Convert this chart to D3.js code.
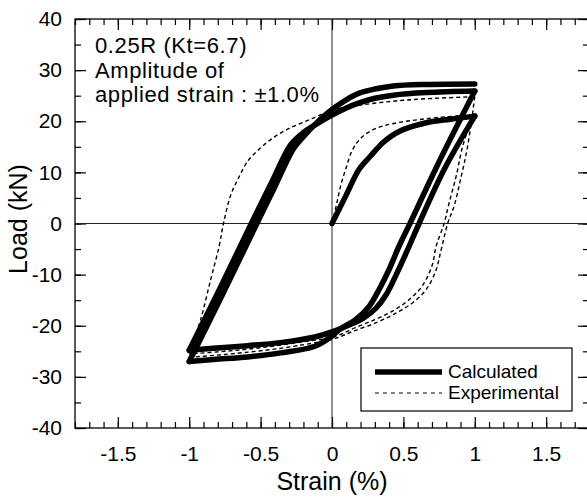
<!DOCTYPE html>
<html>
<head>
<meta charset="utf-8">
<script src="https://cdn.jsdelivr.net/npm/d3@7"></script>
<style>
  body { margin: 0; background: #fff; }
  text { font-family: "Liberation Sans", Arial, Helvetica, sans-serif; fill: #000; }
</style>
</head>
<body>
<div id="chart"></div>
<script>
// tick values / labels
const xMajor = [-1.5, -1, -0.5, 0, 0.5, 1, 1.5];
const xLabels = ["-1.5", "-1", "-0.5", "0", "0.5", "1", "1.5"];
const yMajor = [-40, -30, -20, -10, 0, 10, 20, 30, 40];
const yLabels = ["-40", "-30", "-20", "-10", "0", "10", "20", "30", "40"];

// calculated branches [strain %, load kN]
const calcLoad0 = [[0,0],[0.1,5.6],[0.19,10.6],[0.27,13.2],[0.36,15.9],[0.47,18.0],[0.66,19.7],[0.83,20.4],[1.0,21.0]];
const calcUnload1 = [[1.0,21.0],[0.79,10.8],[0.61,0],[0.53,-5.1],[0.45,-10.0],[0.38,-13.9],[0.31,-16.5],[0.22,-18.5],[0.1,-20.1],[0,-21.2],[-0.12,-22.2],[-0.36,-23.3],[-0.59,-23.9],[-0.83,-24.4],[-1.0,-24.8]];
const calcLoad1 = [[-1.0,-24.8],[-0.78,-12.4],[-0.565,0],[-0.42,8.2],[-0.29,15.4],[-0.2,17.8],[-0.1,19.6],[0,21.2],[0.1,22.6],[0.19,23.6],[0.3,24.5],[0.43,25.1],[0.66,25.6],[1.0,25.9]];
const calcUnload2 = [[1.0,25.9],[0.74,11.5],[0.546,0],[0.47,-4.4],[0.4,-9.0],[0.33,-12.9],[0.26,-16.2],[0.165,-18.8],[0.06,-20.6],[0,-22.0],[-0.12,-24.0],[-0.36,-25.3],[-0.59,-26.1],[-0.83,-26.6],[-1.0,-27.0]];
const calcLoad2 = [[-1.0,-27.0],[-0.76,-13.5],[-0.526,0],[-0.4,7.2],[-0.27,14.6],[-0.2,17.0],[-0.1,19.9],[0,22.3],[0.1,24.2],[0.19,25.5],[0.3,26.3],[0.43,26.9],[0.66,27.2],[1.0,27.3]];

// experimental branches
const expLoad0 = [[0,0],[0.03,3.5],[0.06,7.3],[0.1,11.0],[0.145,14.5],[0.21,16.9],[0.3,18.5],[0.42,19.5],[0.66,20.5],[0.95,21.2],[0.99,21.3]];
const expUnload1 = [[0.99,21.3],[0.915,15.1],[0.87,9.3],[0.82,4.0],[0.785,0],[0.73,-4.4],[0.7,-8.3],[0.63,-12.3],[0.54,-14.9],[0.42,-17.2],[0.3,-18.8],[0.16,-20.4],[0.03,-22.0],[-0.24,-23.3],[-0.5,-24.3],[-0.75,-25.0],[-1.0,-25.5]];
const expLoad1 = [[-1.0,-25.5],[-0.92,-18.8],[-0.85,-11.0],[-0.79,-4.4],[-0.76,0],[-0.71,5.5],[-0.66,8.6],[-0.59,12.2],[-0.5,14.8],[-0.4,17.0],[-0.3,18.6],[-0.15,20.4],[0,22.2],[0.18,23.1],[0.42,23.9],[0.66,24.4],[1.0,24.8]];
const expUnload2 = [[1.0,24.8],[0.95,15.1],[0.9,8.6],[0.855,3.4],[0.81,0],[0.76,-5.7],[0.73,-9.0],[0.66,-12.9],[0.565,-15.5],[0.45,-17.5],[0.31,-19.4],[0.145,-21.1],[0.03,-22.4],[-0.24,-23.9],[-0.5,-24.9],[-0.75,-25.6],[-1.0,-26.2]];

const calcBranches = [calcLoad0, calcUnload1, calcLoad1, calcUnload2, calcLoad2];
const expBranches = [expLoad0, expUnload1, expLoad1, expUnload2];

const noteLines = ["0.25R (Kt=6.7)", "Amplitude of", "applied strain : \u00b11.0%"];
const legendNames = ["Calculated", "Experimental"];

const width = 587;
const height = 497;
const plotLeft = 75, plotRight = 589, plotTop = 19, plotBottom = 428;

var svg = d3.select("#chart").append("svg")
    .attr("width", width)
    .attr("height", height);

svg.append("rect").attr("width", width).attr("height", height).attr("fill", "#fff");

var x = d3.scaleLinear().domain([-1.8, 1.8]).range([plotLeft, plotRight]);
var y = d3.scaleLinear().domain([-40, 40]).range([plotBottom, plotTop]);

function styleAxis(g) {
    g.select(".domain").remove();
    g.selectAll("line").attr("stroke", "#000").attr("stroke-width", 1.2);
    g.selectAll("text").style("font-size", "21px").attr("fill", "#000");
}

// minor ticks
svg.append("g").attr("transform", "translate(0," + plotBottom + ")")
    .call(d3.axisBottom(x).ticks(36).tickSize(-6).tickFormat(""))
    .call(styleAxis);
svg.append("g").attr("transform", "translate(0," + plotTop + ")")
    .call(d3.axisTop(x).ticks(36).tickSize(-6).tickFormat(""))
    .call(styleAxis);
svg.append("g").attr("transform", "translate(" + plotLeft + ",0)")
    .call(d3.axisLeft(y).ticks(16).tickSize(-6).tickFormat(""))
    .call(styleAxis);
svg.append("g").attr("transform", "translate(" + plotRight + ",0)")
    .call(d3.axisRight(y).ticks(16).tickSize(-6).tickFormat(""))
    .call(styleAxis);

// major ticks + labels
svg.append("g").attr("transform", "translate(0," + plotBottom + ")")
    .call(d3.axisBottom(x).tickValues(xMajor).tickSize(-11).tickPadding(18)
          .tickFormat((d, i) => xLabels[i]))
    .call(styleAxis);
svg.append("g").attr("transform", "translate(0," + plotTop + ")")
    .call(d3.axisTop(x).tickValues(xMajor).tickSize(-11).tickFormat(""))
    .call(styleAxis);
svg.append("g").attr("transform", "translate(" + plotLeft + ",0)")
    .call(d3.axisLeft(y).tickValues(yMajor).tickSize(-11).tickPadding(13)
          .tickFormat((d, i) => yLabels[i]))
    .call(styleAxis);
svg.append("g").attr("transform", "translate(" + plotRight + ",0)")
    .call(d3.axisRight(y).tickValues(yMajor).tickSize(-11).tickFormat(""))
    .call(styleAxis);

// frame
svg.append("rect")
    .attr("x", plotLeft).attr("y", plotTop)
    .attr("width", plotRight - plotLeft).attr("height", plotBottom - plotTop)
    .attr("fill", "none").attr("stroke", "#000").attr("stroke-width", 1.3);

// zero lines
svg.append("line").attr("x1", plotLeft).attr("x2", plotRight)
    .attr("y1", y(0)).attr("y2", y(0))
    .attr("stroke", "#222").attr("stroke-width", 1);
svg.append("line").attr("x1", x(0)).attr("x2", x(0))
    .attr("y1", plotTop).attr("y2", plotBottom)
    .attr("stroke", "#222").attr("stroke-width", 1);

var line = d3.line()
    .x(d => x(d[0]))
    .y(d => y(d[1]))
    .curve(d3.curveCatmullRom.alpha(0.5));

svg.append("g").attr("class", "experimental")
    .selectAll("path").data(expBranches).join("path")
    .attr("d", line)
    .attr("fill", "none")
    .attr("stroke", "#000")
    .attr("stroke-width", 1.4)
    .attr("stroke-dasharray", "4,3");

svg.append("g").attr("class", "calculated")
    .selectAll("path").data(calcBranches).join("path")
    .attr("d", line)
    .attr("fill", "none")
    .attr("stroke", "#000")
    .attr("stroke-width", 5.5)
    .attr("stroke-linecap", "round")
    .attr("stroke-linejoin", "round");

// note text
svg.append("g").selectAll("text").data(noteLines).join("text")
    .attr("x", 95)
    .attr("y", (d, i) => 53 + i * 24.5)
    .style("font-size", "22px")
    .style("letter-spacing", "0.6px")
    .text(d => d);

// axis titles
svg.append("text")
    .attr("x", x(0)).attr("y", 490)
    .attr("text-anchor", "middle")
    .style("font-size", "25px")
    .text("Strain (%)");
svg.append("text")
    .attr("transform", "translate(27,219) rotate(-90)")
    .attr("text-anchor", "middle")
    .style("font-size", "25px")
    .text("Load (kN)");

// legend
var lg = svg.append("g");
lg.append("rect")
    .attr("x", 361).attr("y", 348).attr("width", 211).attr("height", 63)
    .attr("fill", "#fff").attr("stroke", "#000").attr("stroke-width", 1.2);
lg.append("line").attr("x1", 375).attr("x2", 442).attr("y1", 372).attr("y2", 372)
    .attr("stroke", "#000").attr("stroke-width", 5.5);
lg.append("line").attr("x1", 375).attr("x2", 442).attr("y1", 393).attr("y2", 393)
    .attr("stroke", "#000").attr("stroke-width", 1.2).attr("stroke-dasharray", "4,4");
lg.selectAll("text").data(legendNames).join("text")
    .attr("x", 448)
    .attr("y", (d, i) => 378 + i * 21)
    .style("font-size", "19px")
    .text(d => d);
</script>
</body>
</html>
